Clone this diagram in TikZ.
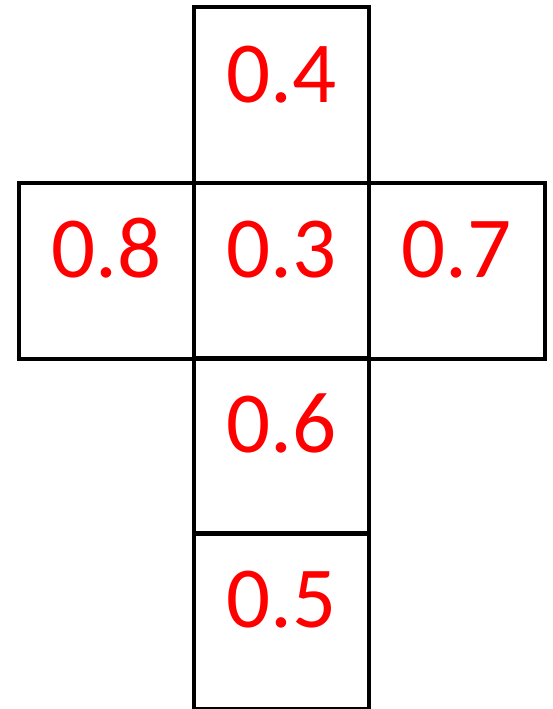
\documentclass[tikz,border=0pt]{standalone}
\usepackage{fontspec}
\setmainfont{Carlito}
\begin{document}
\begin{tikzpicture}[x=1pt,y=-1pt,
  cell/.style={draw=black,line width=4pt,line join=miter,minimum width=175.5pt,minimum height=175.5pt,inner sep=0pt,outer sep=0pt,anchor=north west},
  val/.style={text=red,font=\fontsize{87}{87}\selectfont,anchor=base,inner sep=0pt}]
\useasboundingbox (0,0) rectangle (552,709);
\node[cell] (top) at (193.5,7.5) {};
\node[cell] (left) at (18.5,183) {};
\node[cell] (mid) at (193.5,183) {};
\node[cell] (right) at (369,183) {};
\node[cell] (low) at (193.5,358) {};
\node[cell] (bot) at (193.5,533) {};
\node[val] (t4) at ([yshift=-94.5pt]top.north) {0.4};
\node[val] (t8) at ([yshift=-94.5pt]left.north) {0.8};
\node[val] (t3) at ([yshift=-94.5pt]mid.north) {0.3};
\node[val] (t7) at ([yshift=-94.5pt]right.north) {0.7};
\node[val] (t6) at ([yshift=-94.5pt]low.north) {0.6};
\node[val] (t5) at ([yshift=-94.5pt]bot.north) {0.5};
\end{tikzpicture}
\end{document}
